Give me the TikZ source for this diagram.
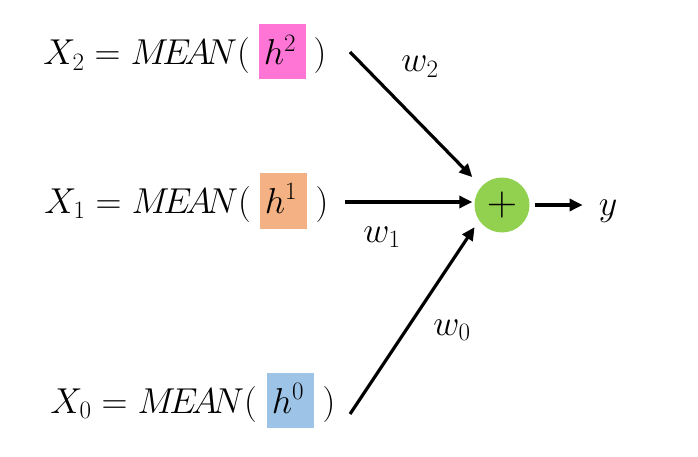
\RequirePackage{fix-cm}
\documentclass[tikz,border=0pt]{standalone}
\usetikzlibrary{arrows.meta}
\definecolor{hpink}{HTML}{FF75D6}
\definecolor{horange}{HTML}{F4B183}
\definecolor{hblue}{HTML}{9DC3E6}
\definecolor{sumgreen}{HTML}{92D050}
\DeclareMathSizes{36}{36}{25}{18}
\tikzset{
  eq/.style={inner sep=0pt, font=\fontsize{36}{40}\selectfont},
  hbox/.style={minimum width=47pt, minimum height=55pt, inner sep=0pt},
  wlab/.style={inner sep=0pt, font=\fontsize{36}{40}\selectfont},
  arr/.style={line width=3.2pt, -{Triangle[length=13pt,width=12pt]}},
}
\begin{document}
\begin{tikzpicture}[x=1pt,y=-1pt]
\useasboundingbox (0,0) rectangle (698,457);
% boxes
\node[hbox, fill=hpink]   (b2) at (282.5,51.5) {};
\node[hbox, fill=horange] (b1) at (283.5,201) {};
\node[hbox, fill=hblue]   (b0) at (290,400) {};
% row 2
\node[eq, anchor=base east] (l2) at (250,65) {$X_2 = M\!E\!A\!N($};
\node[eq, anchor=base] (h2) at (280,65) {$h^2$};
\node[eq, anchor=base] (r2) at (320,65) {$)$};
% row 1
\node[eq, anchor=base east] (l1) at (251,213) {$X_1 = M\!E\!A\!N($};
\node[eq, anchor=base] (h1) at (281,213) {$h^1$};
\node[eq, anchor=base] (r1) at (322,213) {$)$};
% row 0
\node[eq, anchor=base east] (l0) at (257,413) {$X_0 = M\!E\!A\!N($};
\node[eq, anchor=base] (h0) at (288,413) {$h^0$};
\node[eq, anchor=base] (r0) at (329,413) {$)$};
% sum
\node[circle, fill=sumgreen, minimum size=55pt, inner sep=0pt] (sum) at (502,205) {};
\node[font=\fontsize{42}{42}\selectfont, inner sep=0pt] (plus) at (sum.center) {$+$};
\node[eq, anchor=base] (y) at (608,215) {$y$};
% arrow starts
\coordinate (s2) at (350,52);
\coordinate (s1) at (345,202);
\coordinate (s0) at (350,414);
\draw[arr, shorten >=13pt] (s2) -- (sum.138);
\draw[arr, shorten >=2pt] (s1) -- (s1 -| sum.west);
\draw[arr, shorten >=8pt] (s0) -- (sum.214);
\draw[arr, shorten <=5pt, shorten >=16pt] (sum.east) -- (sum.east -| y.west);
% weights
\node[wlab, anchor=base] (w2) at (420,72) {$w_2$};
\node[wlab, anchor=base] (w1) at (382,242) {$w_1$};
\node[wlab, anchor=base] (w0) at (452,335) {$w_0$};
\end{tikzpicture}
\end{document}
